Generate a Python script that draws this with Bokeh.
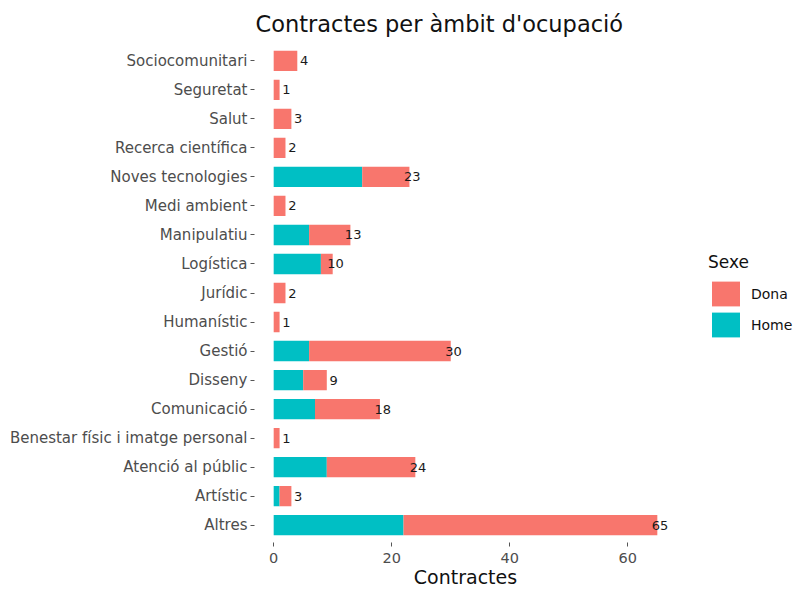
from bokeh.plotting import figure
from bokeh.models import FactorRange, Range1d, ColumnDataSource, Legend, LegendItem
from bokeh.core.properties import value
from bokeh.embed import file_html
from bokeh.resources import INLINE

# categories, top to bottom as in the chart
categories = ["Sociocomunitari", "Seguretat", "Salut", "Recerca científica",
              "Noves tecnologies", "Medi ambient", "Manipulatiu", "Logística",
              "Jurídic", "Humanístic", "Gestió", "Disseny", "Comunicació",
              "Benestar físic i imatge personal", "Atenció al públic",
              "Artístic", "Altres"]
total = [4, 1, 3, 2, 23, 2, 13, 10, 2, 1, 30, 9, 18, 1, 24, 3, 65]
home = [0, 0, 0, 0, 15, 0, 6, 8, 0, 0, 6, 5, 7, 0, 9, 1, 22]
dona = [t - h for t, h in zip(total, home)]
x_ticks = [0, 20, 40, 60]

FONT = "DejaVu Sans"
C_DONA = "#F8766D"
C_HOME = "#00BFC4"

src = ColumnDataSource(dict(cat=categories, Home=home, Dona=dona, total=total,
                            label=[str(t) for t in total]))

factors = list(reversed(categories))
p = figure(frame_width=422, frame_height=499, output_backend="svg",
           toolbar_location=None,
           y_range=FactorRange(factors=factors, range_padding=0.1,
                               range_padding_units="absolute"),
           x_range=Range1d(-0.05 * max(total), 1.05 * max(total)),
           min_border_left=254, min_border_right=118, min_border_top=43,
           min_border_bottom=0)

rs = p.hbar_stack(["Home", "Dona"], y="cat", height=0.7, source=src,
                  color=[C_HOME, C_DONA], line_color=None)

p.text(x="total", y="cat", text="label", source=src, text_align="right",
       text_baseline="middle", x_offset=11, text_font=value(FONT),
       text_font_size="13px", text_color="#1a1a1a")

p.title.text = "Contractes per àmbit d'ocupació"
p.title.align = "left"
p.title.offset = 1
p.title.text_font = FONT
p.title.text_font_size = "22.5px"
p.title.text_font_style = "normal"
p.title.text_color = "#111111"
p.title.standoff = 13

p.xaxis.ticker = x_ticks
p.xaxis.axis_label = "Contractes"
p.xaxis.axis_label_text_font = FONT
p.xaxis.axis_label_text_font_size = "19px"
p.xaxis.axis_label_text_font_style = "normal"
p.xaxis.axis_label_text_color = "#111111"
p.xaxis.axis_label_standoff = 0
for ax in (p.xaxis, p.yaxis):
    ax.axis_line_color = None
    ax.major_tick_line_color = "#555555"
    ax.major_tick_out = 4
    ax.major_tick_in = 0
    ax.minor_tick_line_color = None
    ax.major_label_text_font = FONT
    ax.major_label_text_color = "#4D4D4D"
p.yaxis.major_label_text_font_size = "15px"
p.yaxis.major_label_standoff = 3
p.xaxis.major_label_text_font_size = "14.5px"
p.xaxis.major_label_standoff = 6

p.xgrid.grid_line_color = None
p.ygrid.grid_line_color = None
p.outline_line_color = None
p.background_fill_color = "white"
p.border_fill_color = "white"

legend = Legend(items=[LegendItem(label="Dona", renderers=[rs[1]]),
                       LegendItem(label="Home", renderers=[rs[0]])],
                title="Sexe", location=(32, 202))
legend.title_text_font = FONT
legend.title_text_font_size = "17px"
legend.title_text_font_style = "normal"
legend.title_text_color = "#111111"
legend.title_standoff = 6
legend.label_text_font = FONT
legend.label_text_font_size = "14px"
legend.label_text_color = "#111111"
legend.glyph_width = 35
legend.glyph_height = 31
legend.label_height = 31
legend.spacing = 0
legend.label_standoff = 8
legend.padding = 0
legend.margin = 0
legend.border_line_color = None
legend.background_fill_alpha = 0
p.add_layout(legend, "right")

open("out.html", "w").write(file_html(p, INLINE))
